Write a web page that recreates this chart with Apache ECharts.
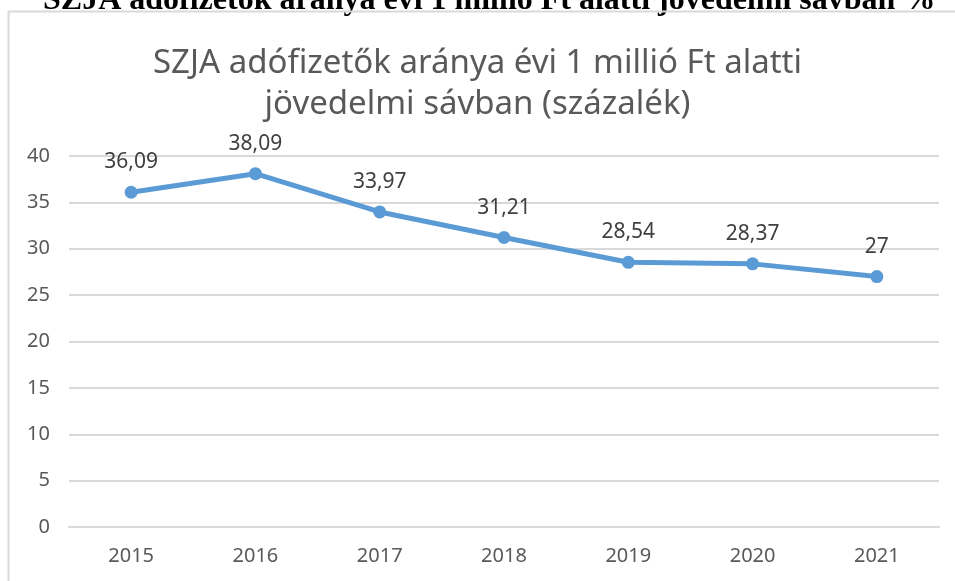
<!DOCTYPE html>
<html>
<head>
<meta charset="utf-8">
<script src="https://cdn.jsdelivr.net/npm/echarts@6/dist/echarts.min.js"></script>
<style>
html,body{margin:0;padding:0;background:#fff;}
#chart{width:955px;height:581px;}
</style>
</head>
<body>
<div id="chart"></div>
<script>
var years = ['2015', '2016', '2017', '2018', '2019', '2020', '2021'];
var arany = [36.09, 38.09, 33.97, 31.21, 28.54, 28.37, 27];

var chart = echarts.init(document.getElementById('chart'));
chart.setOption({
    animation: false,
    title: {
        text: 'SZJA adófizetők aránya évi 1 millió Ft alatti\njövedelmi sávban (százalék)',
        left: 'center',
        top: 38,
        textStyle: {
            fontFamily: 'Noto Sans',
            fontWeight: 'normal',
            fontSize: 33,
            lineHeight: 41,
            color: '#595959'
        }
    },
    graphic: [
        // kivágott felső cím
        {
            type: 'text',
            left: 43,
            top: -15,
            style: {
                text: 'SZJA adófizetők aránya évi 1 millió Ft alatti jövedelmi sávban %',
                font: 'bold 32px "Liberation Serif"',
                fill: '#000'
            }
        },
        {
            type: 'polyline',
            shape: {points: [[8.5, 581], [8.5, 11.5], [955, 11.5]]},
            style: {stroke: '#d9d9d9', lineWidth: 2, fill: null}
        }
    ],
    grid: {
        left: 69,
        right: 16,
        top: 156,
        bottom: 54
    },
    xAxis: {
        type: 'category',
        data: years,
        axisLine: {lineStyle: {color: '#d9d9d9', width: 2}},
        axisTick: {show: false},
        axisLabel: {
            margin: 19,
            fontFamily: 'Noto Sans',
            fontSize: 20,
            color: '#595959'
        }
    },
    yAxis: {
        type: 'value',
        min: 0,
        max: 40,
        interval: 5,
        axisLine: {show: false},
        axisTick: {show: false},
        splitLine: {lineStyle: {color: '#d9d9d9', width: 2}},
        axisLabel: {
            margin: 19,
            fontFamily: 'Noto Sans',
            fontSize: 20,
            color: '#595959'
        }
    },
    series: [{
        type: 'line',
        data: arany,
        symbol: 'circle',
        symbolSize: 13,
        lineStyle: {color: '#5b9bd5', width: 5},
        itemStyle: {color: '#5b9bd5'},
        label: {
            show: true,
            position: 'top',
            distance: 13,
            fontFamily: 'Noto Sans',
            fontSize: 21,
            color: '#404040',
            formatter: function (p) {
                return String(p.value).replace('.', ',');
            }
        }
    }]
});
</script>
</body>
</html>
